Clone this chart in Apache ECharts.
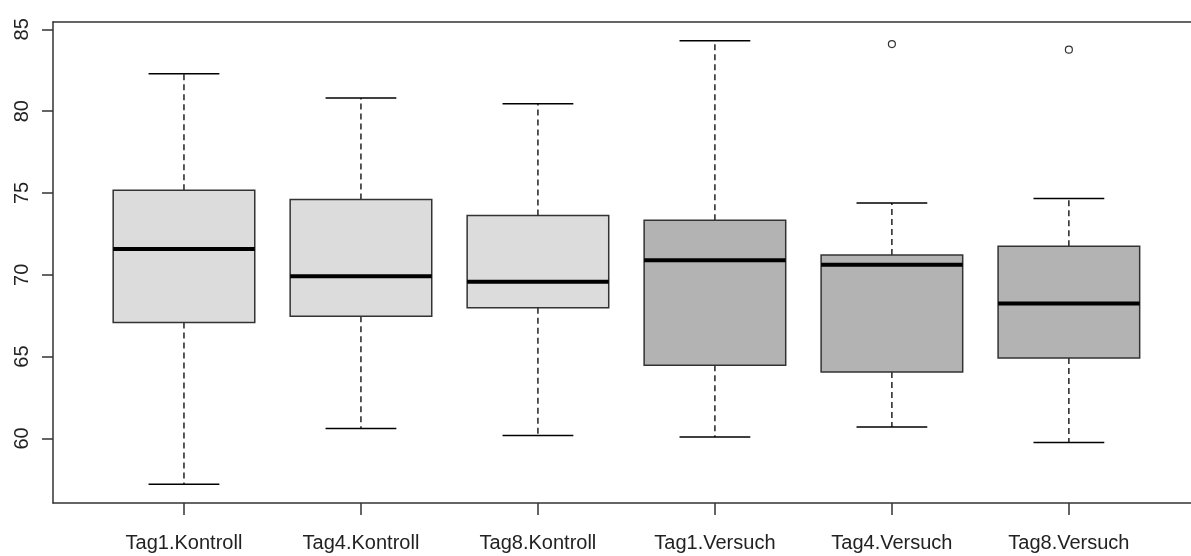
<!DOCTYPE html>
<html>
<head>
<meta charset="utf-8">
<script src="https://cdn.jsdelivr.net/npm/echarts@6/dist/echarts.min.js"></script>
<style>
  html, body { margin: 0; padding: 0; background: #fff; }
  #chart { width: 1191px; height: 556px; }
</style>
</head>
<body>
<div id="chart"></div>
<script>
// Groups along the x axis
const categories = ['Tag1.Kontroll', 'Tag4.Kontroll', 'Tag8.Kontroll', 'Tag1.Versuch', 'Tag4.Versuch', 'Tag8.Versuch'];

// Five-number summaries per group
const whiskerLow  = [57.19, 60.61, 60.18, 60.08, 60.69, 59.75];
const quartile1   = [67.08, 67.47, 67.98, 64.47, 64.05, 64.92];
const medians     = [71.58, 69.91, 69.57, 70.89, 70.62, 68.24];
const quartile3   = [75.17, 74.60, 73.62, 73.33, 71.21, 71.74];
const whiskerHigh = [82.29, 80.80, 80.46, 84.31, 74.39, 74.66];

// Points beyond the whiskers: [group position, value]
const outliers = [[5, 84.10], [6, 83.76]];

// Y axis tick values
const yTicks = [60, 65, 70, 75, 80, 85];

// Fill per group: control groups light, treatment groups darker
const boxFills = ['#dcdcdc', '#dcdcdc', '#dcdcdc', '#b3b3b3', '#b3b3b3', '#b3b3b3'];

const boxData = categories.map((c, i) => [i + 1, whiskerLow[i], quartile1[i], medians[i], quartile3[i], whiskerHigh[i]]);
const positions = categories.map((c, i) => i + 1);

const chart = echarts.init(document.getElementById('chart'));

function renderBox(params, api) {
  const x = api.value(0);
  const lo = api.coord([x, api.value(1)]);
  const q1 = api.coord([x, api.value(2)]);
  const md = api.coord([x, api.value(3)]);
  const q3 = api.coord([x, api.value(4)]);
  const hi = api.coord([x, api.value(5)]);
  const halfBox = api.size([0.8, 0])[0] / 2;
  const halfCap = halfBox / 2;
  const cx = lo[0];
  const dash = { stroke: '#000', lineWidth: 1.3, lineDash: [6, 4] };
  const solid = { stroke: '#000', lineWidth: 1.5 };
  return {
    type: 'group',
    children: [
      { type: 'line', shape: { x1: cx, y1: q3[1], x2: cx, y2: hi[1] }, style: dash },
      { type: 'line', shape: { x1: cx, y1: q1[1], x2: cx, y2: lo[1] }, style: dash },
      { type: 'line', shape: { x1: cx - halfCap, y1: hi[1], x2: cx + halfCap, y2: hi[1] }, style: solid },
      { type: 'line', shape: { x1: cx - halfCap, y1: lo[1], x2: cx + halfCap, y2: lo[1] }, style: solid },
      {
        type: 'rect',
        shape: { x: cx - halfBox, y: q3[1], width: halfBox * 2, height: q1[1] - q3[1] },
        style: { fill: boxFills[params.dataIndex], stroke: '#333', lineWidth: 1.5 }
      },
      { type: 'line', shape: { x1: cx - halfBox, y1: md[1], x2: cx + halfBox, y2: md[1] }, style: { stroke: '#000', lineWidth: 4 } }
    ]
  };
}

const frameLine = { show: true, lineStyle: { color: '#333', width: 1.5 } };
const labelFont = { fontFamily: 'Liberation Sans, Arial, sans-serif', fontSize: 20, color: '#222' };

chart.setOption({
  animation: false,
  backgroundColor: '#fff',
  grid: { left: 53, top: 22, width: 1138, height: 481 },
  xAxis: [
    {
      type: 'value',
      position: 'bottom',
      min: 0.26, max: 6.69,
      axisLine: frameLine,
      splitLine: { show: false },
      axisTick: { show: true, length: 12, customValues: positions, lineStyle: { color: '#333', width: 1.5 } },
      axisLabel: Object.assign({
        customValues: positions,
        formatter: v => categories[Math.round(v) - 1] || '',
        margin: 30
      }, labelFont)
    },
    {
      // top edge of the plot frame
      type: 'value',
      position: 'top',
      min: 0.26, max: 6.69,
      axisLine: frameLine,
      axisTick: { show: false },
      axisLabel: { show: false },
      splitLine: { show: false }
    }
  ],
  yAxis: {
    type: 'value',
    min: 56.05, max: 85.45,
    axisLine: frameLine,
    splitLine: { show: false },
    axisTick: { show: true, length: 11, customValues: yTicks, lineStyle: { color: '#333', width: 1.5 } },
    axisLabel: Object.assign({
      customValues: yTicks,
      rotate: 90,
      margin: 21
    }, labelFont)
  },
  series: [
    {
      type: 'custom',
      renderItem: renderBox,
      encode: { x: 0, y: [1, 2, 3, 4, 5] },
      data: boxData,
      z: 2
    },
    {
      type: 'scatter',
      data: outliers,
      symbol: 'circle',
      symbolSize: 7,
      itemStyle: { color: '#fff', borderColor: '#000', borderWidth: 1.2 },
      z: 3
    }
  ]
});
</script>
</body>
</html>
